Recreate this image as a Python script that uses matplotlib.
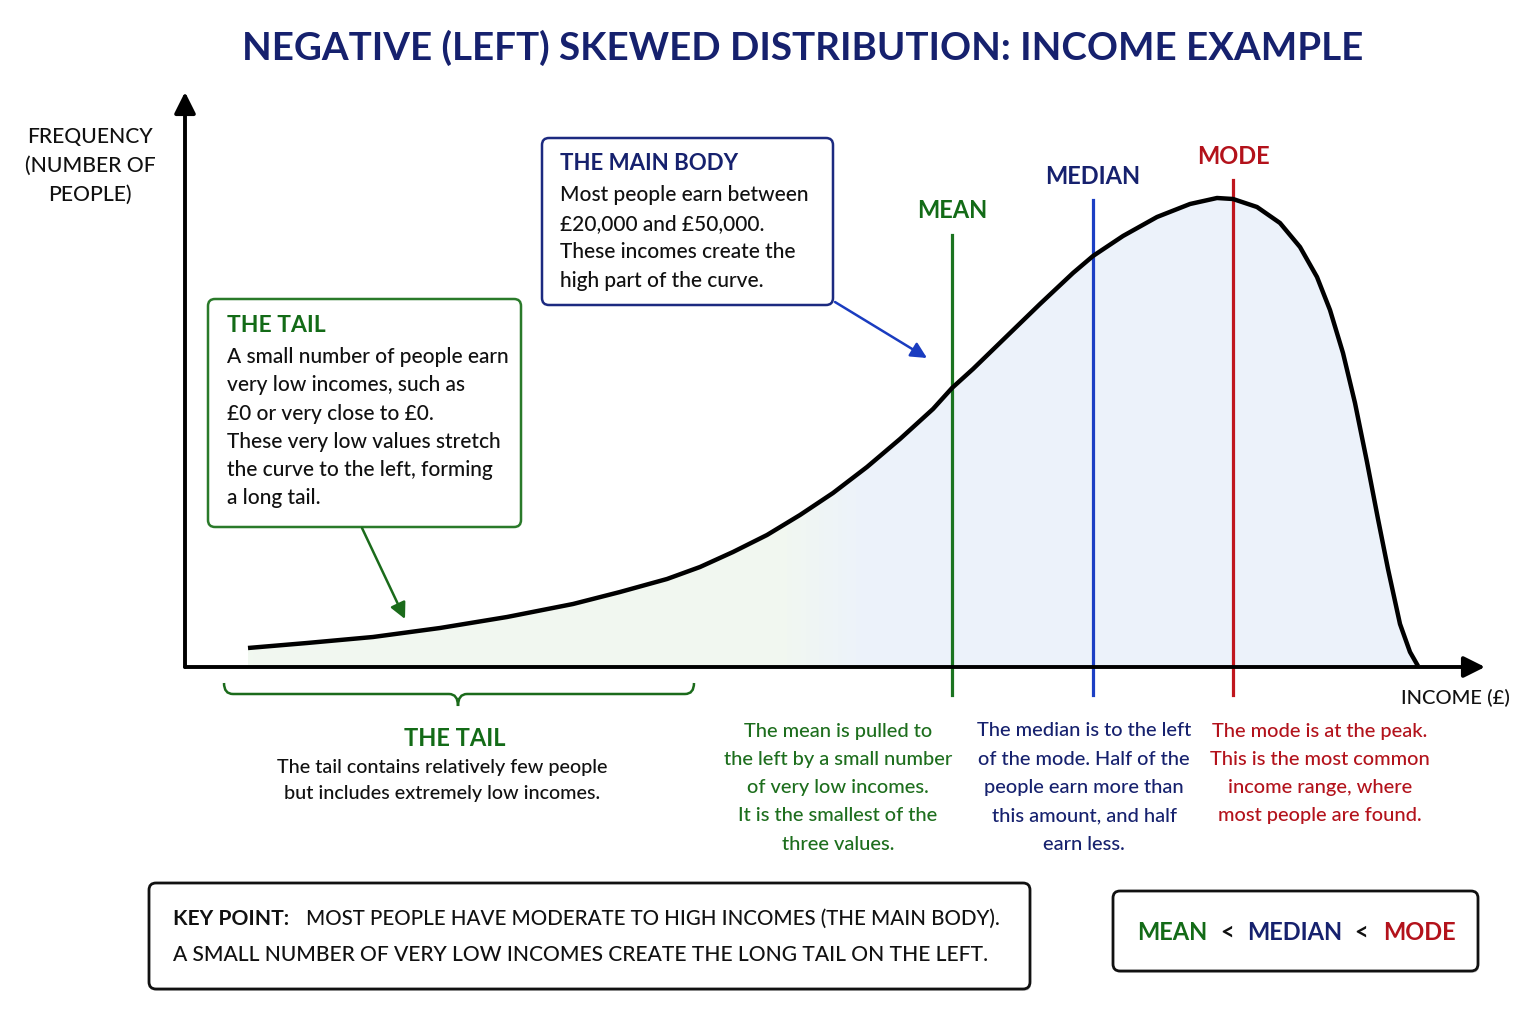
import numpy as np
import matplotlib
matplotlib.use('Agg')
import matplotlib.pyplot as plt
from matplotlib.patches import FancyBboxPatch, Polygon, PathPatch
from matplotlib.path import Path
from matplotlib.colors import LinearSegmentedColormap

# curve (arbitrary income units / frequency units)
income = [6.3, 12.2, 18.8, 25.5, 32.2, 38.8, 43.5, 48.2, 51.5, 54.8, 58.2, 61.5,
          64.8, 68.2, 71.5, 74.8, 76.7, 78.8, 82.2, 85.5, 88.8, 90.8, 93.8, 97.2,
          100.5, 103.2, 104.8, 107.2, 109.5, 111.5, 113.2, 114.5, 115.8, 117.0,
          118.2, 119.3, 120.3, 121.5, 122.5, 123.3]
frequency = [1.9, 2.4, 3.0, 3.9, 5.0, 6.3, 7.5, 8.8, 10.0, 11.5, 13.2, 15.2,
             17.4, 20.0, 22.8, 25.8, 27.9, 29.8, 33.1, 36.3, 39.4, 41.1, 43.1, 45.0,
             46.3, 46.9, 46.8, 46.0, 44.4, 42.0, 39.0, 35.7, 31.4, 26.4,
             20.5, 14.8, 9.8, 4.3, 1.5, 0.1]
stat_names = ['MEAN', 'MEDIAN', 'MODE']
stat_values = [76.7, 90.8, 104.8]

GREEN = '#136b17'
NAVY = '#16216e'
RED = '#b3121b'
LINE_COLS = ['#1b7420', '#1c3fc4', '#c0161d']
TEXT_COLS = [GREEN, NAVY, RED]
INK = '#111111'

plt.rcParams['font.family'] = ['Lato', 'DejaVu Sans']
plt.rcParams['font.weight'] = 'medium'

fig = plt.figure(figsize=(15.36, 10.24), dpi=100)
fig.patch.set_facecolor('white')

# chart area
ax = fig.add_axes([185 / 1536, (1024 - 667) / 1024, 1300 / 1536, 575 / 1024])
ax.patch.set_alpha(0)
for s in ax.spines.values():
    s.set_visible(False)
ax.set_xticks([])
ax.set_yticks([])

x = np.array(income)
y = np.array(frequency)

cmap = LinearSegmentedColormap.from_list(
    'fill', [(0, '#f1f8f0'), (0.46, '#f1f7f1'), (0.52, '#edf3fa'), (1, '#ecf2fb')])
im = ax.imshow(np.linspace(0, 1, 256).reshape(1, -1), extent=[x[0], x[-1], 0, y.max()],
               aspect='auto', cmap=cmap, zorder=1)
poly = Polygon(np.column_stack([np.r_[x, x[-1], x[0]], np.r_[y, 0, 0]]), closed=True,
               facecolor='none', edgecolor='none', transform=ax.transData)
ax.add_patch(poly)
im.set_clip_path(poly)

ax.plot(x, y, color='black', lw=3.2, solid_capstyle='butt', solid_joinstyle='round', zorder=4)

tops = [43.2, 46.7, 48.7]
for name, v, top, lc, tc in zip(stat_names, stat_values, tops, LINE_COLS, TEXT_COLS):
    ax.plot([v, v], [-2.8, top], color=lc, lw=2.3, clip_on=False, zorder=3)
    ax.text(v, top + 2.4, name, color=tc, fontsize=17, fontweight='bold',
            ha='center', va='center')

ax.set_xlim(0, 130)
ax.set_ylim(0, 57.5)

# axis arrows
for tip in [(130, 0), (0, 57.5)]:
    ax.annotate('', xy=tip, xytext=(0, 0), annotation_clip=False,
                arrowprops=dict(arrowstyle='-|>', mutation_scale=32, lw=2.8, color='black',
                                shrinkA=0, shrinkB=0), zorder=5)

# overlay in pixel coordinates for the annotations
ov = fig.add_axes([0, 0, 1, 1])
ov.set_xlim(0, 1536)
ov.set_ylim(1024, 0)
ov.axis('off')
ov.patch.set_alpha(0)


def box(x0, y0, x1, y1, ec, lw=1.8, shadow=False):
    if shadow:
        ov.add_patch(FancyBboxPatch((x0 + 1, y0 + 2), x1 - x0, y1 - y0,
                                    boxstyle='round,pad=0,rounding_size=7',
                                    fc='#bbbbbb', ec='none', alpha=0.6))
    ov.add_patch(FancyBboxPatch((x0, y0), x1 - x0, y1 - y0,
                                boxstyle='round,pad=0,rounding_size=7',
                                fc='white', ec=ec, lw=lw))


def lines(xp, y0, step, rows, color, ha='left', size=15):
    for i, r in enumerate(rows):
        ov.text(xp, y0 + i * step, r, color=color, fontsize=size, ha=ha, va='center')


ov.text(803, 48, 'NEGATIVE (LEFT) SKEWED DISTRIBUTION: INCOME EXAMPLE', color=NAVY,
        fontsize=27.7, fontweight='bold', ha='center', va='center')

for i, r in enumerate(['FREQUENCY', '(NUMBER OF', 'PEOPLE)']):
    ov.text(90, 137 + i * 29, r, fontsize=15.2, ha='center', va='center', color=INK)
ov.text(1455, 698, 'INCOME (£)', fontsize=14.5, ha='center', va='center', color=INK)

# main body box
box(542, 138, 833, 305, '#1c2a80')
ov.text(560, 163, 'THE MAIN BODY', color=NAVY, fontsize=16, fontweight='bold', va='center')
lines(560, 195, 28.7, ['Most people earn between', '£20,000 and £50,000.',
                       'These incomes create the', 'high part of the curve.'], INK)
ov.annotate('', xy=(927, 358), xytext=(835, 302),
            arrowprops=dict(arrowstyle='-|>', mutation_scale=24, lw=1.8, color='#1a3cc0',
                            shrinkA=0, shrinkB=0))

# tail box
box(208, 299, 521, 527, '#2a7a2a')
ov.text(227, 325, 'THE TAIL', color=GREEN, fontsize=16.5, fontweight='bold', va='center')
lines(227, 357, 28.3, ['A small number of people earn', 'very low incomes, such as',
                       '£0 or very close to £0.', 'These very low values stretch',
                       'the curve to the left, forming', 'a long tail.'], INK)
ov.annotate('', xy=(405, 619), xytext=(362, 528),
            arrowprops=dict(arrowstyle='-|>', mutation_scale=24, lw=1.8, color='#1b6b1b',
                            shrinkA=0, shrinkB=0))

# brace under the tail
bx0, bx1, bm, by0, by1, btip = 224, 694, 458, 683, 694, 706
verts = [(bx0, by0), (bx0, by1), (bx0 + 9, by1), (bm - 9, by1), (bm, by1), (bm, btip),
         (bm, by1), (bm + 9, by1), (bx1 - 9, by1), (bx1, by1), (bx1, by0)]
codes = [Path.MOVETO, Path.CURVE3, Path.CURVE3, Path.LINETO, Path.CURVE3, Path.CURVE3,
         Path.CURVE3, Path.CURVE3, Path.LINETO, Path.CURVE3, Path.CURVE3]
ov.add_patch(PathPatch(Path(verts, codes), fc='none', ec='#1b6b1b', lw=1.8))

ov.text(455, 738, 'THE TAIL', color=GREEN, fontsize=17, fontweight='bold',
        ha='center', va='center')
lines(442, 768, 26, ['The tail contains relatively few people',
                     'but includes extremely low incomes.'], INK, ha='center', size=14.2)

# descriptions under the stat lines
lines(838, 731, 28.3, ['The mean is pulled to', 'the left by a small number',
                       'of very low incomes.', 'It is the smallest of the',
                       'three values.'], '#1d6e1d', ha='center', size=14.4)
lines(1084, 731, 28.3, ['The median is to the left', 'of the mode. Half of the',
                        'people earn more than', 'this amount, and half',
                        'earn less.'], NAVY, ha='center', size=14.4)
lines(1320, 731, 28.3, ['The mode is at the peak.', 'This is the most common',
                        'income range, where', 'most people are found.'], RED,
      ha='center', size=14.4)

# key point box
box(149, 883, 1030, 989, INK, lw=2.0, shadow=True)
ov.text(173, 919, 'KEY POINT:', fontsize=15.1, fontweight='bold', va='center', color=INK)
ov.text(306, 919, 'MOST PEOPLE HAVE MODERATE TO HIGH INCOMES (THE MAIN BODY).',
        fontsize=14.8, va='center', color=INK)
ov.text(173, 955, 'A SMALL NUMBER OF VERY LOW INCOMES CREATE THE LONG TAIL ON THE LEFT.',
        fontsize=15.1, va='center', color=INK)

# order box
box(1113, 891, 1478, 971, INK, lw=2.0, shadow=True)
for xp, s, c in zip([1172, 1227, 1295, 1361, 1419],
                    [stat_names[0], '<', stat_names[1], '<', stat_names[2]],
                    [GREEN, INK, NAVY, INK, RED]):
    ov.text(xp, 932, s, color=c, fontsize=17, fontweight='bold', ha='center', va='center')

fig.savefig('out.png', dpi=100, facecolor='white')
